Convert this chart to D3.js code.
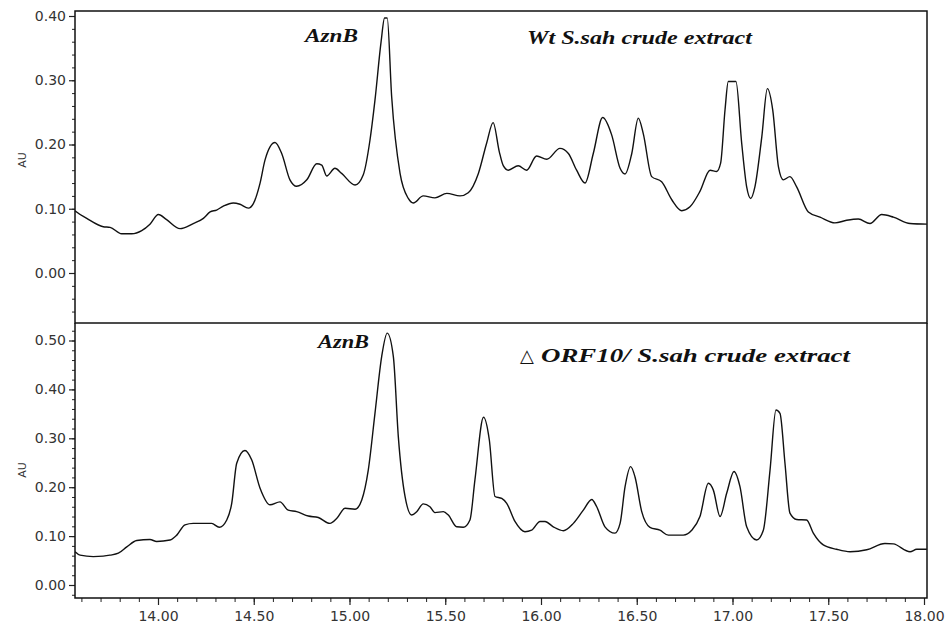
<!DOCTYPE html>
<html>
<head>
<meta charset="utf-8">
<script src="https://cdn.jsdelivr.net/npm/d3@7"></script>
<style>
	body { margin: 0; background: #fff; }
	svg { display: block; }
</style>
</head>
<body>
<div id="chart"></div>
<script>
// retention time (min) and absorbance
const wtTime = [13.567, 13.575, 13.628, 13.714, 13.750, 13.810, 13.863, 13.915, 13.958, 14.002,
	14.045, 14.115, 14.184, 14.237, 14.272, 14.306, 14.341, 14.393, 14.428, 14.472,
	14.498, 14.533, 14.559, 14.611, 14.646, 14.689, 14.724, 14.777, 14.829, 14.855,
	14.881, 14.924, 14.959, 15.029, 15.072, 15.107, 15.133, 15.165, 15.183, 15.197,
	15.220, 15.264, 15.307, 15.333, 15.385, 15.446, 15.508, 15.577, 15.620, 15.673,
	15.716, 15.750, 15.782, 15.803, 15.829, 15.881, 15.925, 15.977, 16.030, 16.099,
	16.143, 16.186, 16.230, 16.273, 16.322, 16.369, 16.413, 16.439, 16.474, 16.508,
	16.534, 16.578, 16.630, 16.683, 16.735, 16.778, 16.830, 16.883, 16.917, 16.938,
	16.961, 16.978, 17.018, 17.048, 17.074, 17.095, 17.117, 17.153, 17.182, 17.210,
	17.240, 17.265, 17.300, 17.335, 17.396, 17.457, 17.535, 17.596, 17.657, 17.718,
	17.779, 17.840, 17.927, 18.015];
const wtAU = [0.097, 0.095, 0.085, 0.072, 0.071, 0.061, 0.061, 0.066, 0.076, 0.091,
	0.083, 0.069, 0.077, 0.085, 0.095, 0.098, 0.104, 0.109, 0.107, 0.101,
	0.108, 0.140, 0.176, 0.203, 0.186, 0.145, 0.135, 0.145, 0.170, 0.168,
	0.151, 0.163, 0.155, 0.137, 0.153, 0.207, 0.269, 0.360, 0.397, 0.397,
	0.275, 0.155, 0.116, 0.109, 0.120, 0.117, 0.124, 0.120, 0.125, 0.155,
	0.202, 0.234, 0.189, 0.167, 0.160, 0.167, 0.160, 0.182, 0.177, 0.194,
	0.186, 0.160, 0.140, 0.186, 0.242, 0.215, 0.163, 0.154, 0.186, 0.241,
	0.217, 0.150, 0.142, 0.114, 0.097, 0.103, 0.127, 0.160, 0.158, 0.171,
	0.254, 0.298, 0.298, 0.202, 0.134, 0.116, 0.134, 0.212, 0.287, 0.254,
	0.165, 0.145, 0.150, 0.134, 0.095, 0.087, 0.078, 0.082, 0.084, 0.077,
	0.091, 0.087, 0.077, 0.076];

const orfTime = [13.567, 13.593, 13.662, 13.714, 13.749, 13.793, 13.837, 13.889, 13.958, 13.993,
	14.063, 14.098, 14.141, 14.184, 14.280, 14.320, 14.359, 14.385, 14.411, 14.454,
	14.489, 14.533, 14.585, 14.637, 14.680, 14.724, 14.785, 14.837, 14.898, 14.933,
	14.977, 15.029, 15.064, 15.098, 15.133, 15.168, 15.197, 15.229, 15.255, 15.290,
	15.325, 15.351, 15.385, 15.420, 15.446, 15.490, 15.516, 15.560, 15.594, 15.629,
	15.655, 15.700, 15.730, 15.760, 15.795, 15.821, 15.864, 15.916, 15.951, 15.995,
	16.021, 16.064, 16.117, 16.169, 16.221, 16.265, 16.291, 16.334, 16.386, 16.413,
	16.439, 16.468, 16.491, 16.526, 16.569, 16.621, 16.665, 16.743, 16.787, 16.830,
	16.874, 16.900, 16.935, 16.970, 17.008, 17.039, 17.074, 17.126, 17.161, 17.196,
	17.227, 17.248, 17.274, 17.300, 17.335, 17.387, 17.422, 17.474, 17.544, 17.614,
	17.701, 17.796, 17.840, 17.927, 17.962, 18.015];
const orfAU = [0.068, 0.061, 0.058, 0.059, 0.061, 0.065, 0.078, 0.091, 0.093, 0.089,
	0.092, 0.102, 0.123, 0.126, 0.126, 0.118, 0.133, 0.167, 0.249, 0.275,
	0.256, 0.198, 0.164, 0.170, 0.153, 0.150, 0.141, 0.138, 0.126, 0.136,
	0.157, 0.155, 0.174, 0.235, 0.351, 0.467, 0.515, 0.467, 0.303, 0.181,
	0.143, 0.150, 0.166, 0.160, 0.148, 0.150, 0.143, 0.119, 0.118, 0.133,
	0.215, 0.343, 0.297, 0.181, 0.177, 0.167, 0.130, 0.109, 0.112, 0.130,
	0.130, 0.119, 0.111, 0.126, 0.153, 0.175, 0.160, 0.119, 0.106, 0.126,
	0.201, 0.242, 0.221, 0.150, 0.118, 0.112, 0.102, 0.102, 0.112, 0.140,
	0.208, 0.194, 0.140, 0.188, 0.232, 0.201, 0.119, 0.092, 0.112, 0.235,
	0.358, 0.351, 0.249, 0.147, 0.134, 0.133, 0.106, 0.082, 0.073, 0.068,
	0.072, 0.085, 0.084, 0.068, 0.073, 0.073];

const xMajorTicks = [14, 14.5, 15, 15.5, 16, 16.5, 17, 17.5, 18];
const xMinorTicks = d3.range(136, 181).map(i => i / 10);
const wtYTicks = [0, 0.1, 0.2, 0.3, 0.4];
const wtYMinor = d3.range(-3, 21).map(i => i * 0.02);
const orfYTicks = [0, 0.1, 0.2, 0.3, 0.4, 0.5];
const orfYMinor = d3.range(-1, 27).map(i => i * 0.02);

const width = 945, height = 627;
const plotLeft = 75, plotRight = 927;

const svg = d3.select("#chart").append("svg")
	.attr("width", width)
	.attr("height", height);

const x = d3.scaleLinear().domain([14, 18]).range([158, 924]);

function panel(cfg) {
	let g = svg.append("g");
	let y = d3.scaleLinear().domain(cfg.domain).range(cfg.range);

	// minor ticks
	g.append("g")
		.attr("transform", `translate(${plotLeft},0)`)
		.call(d3.axisLeft(y).tickValues(cfg.minor).tickSize(3).tickFormat(""))
		.call(a => a.select(".domain").remove())
		.selectAll("line").attr("stroke", "#222");

	// major ticks with labels
	let ax = g.append("g")
		.attr("transform", `translate(${plotLeft},0)`)
		.call(d3.axisLeft(y).tickValues(cfg.ticks).tickSize(6).tickPadding(3).tickFormat(d3.format(".2f")));
	ax.select(".domain").remove();
	ax.selectAll("line").attr("stroke", "#222").attr("stroke-width", 1.2);
	ax.selectAll("text")
		.style("font", "14px 'DejaVu Sans'")
		.attr("fill", "#333");

	g.append("text")
		.attr("transform", `translate(22,${cfg.labelY}) rotate(-90)`)
		.attr("text-anchor", "middle")
		.attr("dominant-baseline", "central")
		.style("font", "11px 'DejaVu Sans'")
		.attr("fill", "#333")
		.text("AU");

	let line = d3.line()
		.x(d => x(d[0]))
		.y(d => y(d[1]))
		.curve(d3.curveMonotoneX);

	g.append("path")
		.datum(d3.zip(cfg.time, cfg.values))
		.attr("fill", "none")
		.attr("stroke", "#111")
		.attr("stroke-width", 1.4)
		.attr("stroke-linejoin", "round")
		.attr("d", line);

	return {g, y};
}

const wtPanel = panel({
	domain: [0, 0.4], range: [273, 16],
	ticks: wtYTicks, minor: wtYMinor, labelY: 160,
	time: wtTime, values: wtAU
});

const orfPanel = panel({
	domain: [0, 0.5], range: [585, 340.5],
	ticks: orfYTicks, minor: orfYMinor, labelY: 470,
	time: orfTime, values: orfAU
});

// x axis under the lower panel
svg.append("g")
	.attr("transform", "translate(0,598)")
	.call(d3.axisBottom(x).tickValues(xMinorTicks).tickSize(4).tickFormat(""))
	.call(a => a.select(".domain").remove())
	.selectAll("line").attr("stroke", "#222");

let xAx = svg.append("g")
	.attr("transform", "translate(0,598)")
	.call(d3.axisBottom(x).tickValues(xMajorTicks).tickSize(7).tickPadding(6).tickFormat(d3.format(".2f")));
xAx.select(".domain").remove();
xAx.selectAll("line").attr("stroke", "#222").attr("stroke-width", 1.2);
xAx.selectAll("text")
	.style("font", "14px 'DejaVu Sans'")
	.attr("fill", "#333");

// frames
const frame = svg.append("g")
	.attr("fill", "none")
	.attr("stroke", "#111")
	.attr("stroke-width", 1.5);
frame.append("rect")
	.attr("x", plotLeft).attr("y", 11)
	.attr("width", plotRight - plotLeft).attr("height", 312);
frame.append("path")
	.attr("d", `M${plotLeft},323V598H${plotRight}V323`);

// annotations
const note = (x0, y0, len, str, size) => svg.append("text")
	.attr("x", x0).attr("y", y0)
	.attr("textLength", len)
	.attr("lengthAdjust", "spacingAndGlyphs")
	.style("font", `italic bold ${size}px 'Liberation Serif'`)
	.attr("fill", "#111")
	.text(str);

note(305, 42, 53, "AznB", 19);
note(527, 44, 225, "Wt S.sah crude extract", 18);
note(318, 348, 51, "AznB", 19);

svg.append("text")
	.attr("x", 520).attr("y", 362)
	.style("font", "18px 'DejaVu Sans'")
	.attr("fill", "#111")
	.text("\u25B3");
note(541, 362, 309, "ORF10/ S.sah crude extract", 18);
</script>
</body>
</html>
